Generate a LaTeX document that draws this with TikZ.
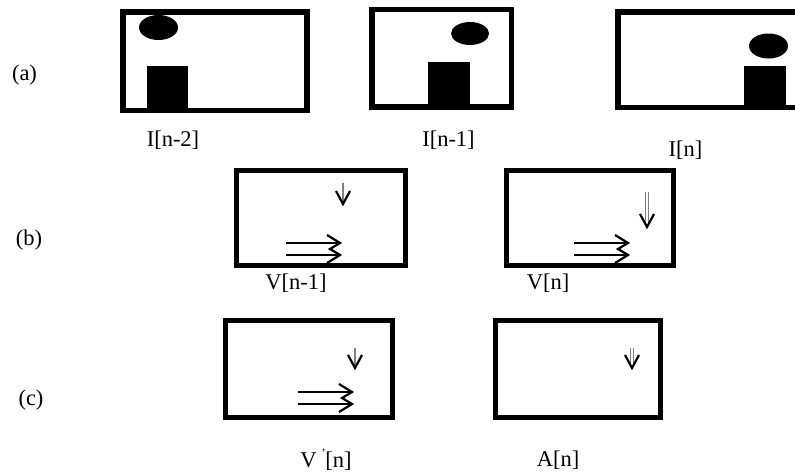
\documentclass[tikz,border=0pt]{standalone}
\usepackage{fontspec}
\setmainfont{Liberation Serif}
% small downward motion vector: #1 = x, #2 = tip y, #3 = shaft length
\newcommand{\vecdown}[3]{%
  \draw[shaft] (#1,#2-#3) -- (#1,#2-2);
  \draw[head] (#1-7,#2-13) -- (#1,#2) -- (#1+7,#2-13);}
% same, with a thin double shaft
\newcommand{\vecdowndbl}[3]{%
  \draw[shaft, line width=0.8pt] (#1-1.2,#2-#3) -- (#1-1.2,#2-3);
  \draw[shaft, line width=0.8pt] (#1+1.2,#2-#3) -- (#1+1.2,#2-3);
  \draw[head] (#1-7,#2-13) -- (#1,#2) -- (#1+7,#2-13);}
% horizontal double motion vector, tip of upper line at #1,#2
\newcommand{\vecright}[2]{%
  \draw[head] (#1-54,#2) -- (#1,#2);
  \draw[head] (#1-54,#2+12) -- (#1,#2+12);
  \draw[head] (#1-13,#2-8) -- (#1,#2) -- (#1-10,#2+6) -- (#1,#2+12) -- (#1-13,#2+20);}
\begin{document}
\begin{tikzpicture}[x=1pt, y=-1pt,
  frame/.style={draw=black, line width=5.5pt, inner sep=0pt, minimum width=#1},
  frame/.default=170pt,
  lbl/.style={font=\fontsize{22.5}{26}\selectfont, inner sep=0pt},
  shaft/.style={draw=black!50, line width=1.6pt},
  head/.style={draw=black, line width=2.2pt, line join=miter},
]
\useasboundingbox (0,0) rectangle (795,474);
\begin{scope}
\clip (0,0) rectangle (795,474);

% row (a): image frames
\node[frame=184pt, minimum height=98.5pt] (ia) at (215,61.25) {};
\node[frame=139.5pt, minimum height=97.5pt] (ib) at (441.75,58.25) {};
\node[frame=212pt, minimum height=95.5pt] (ic) at (724,59.75) {};

\fill (158.5,27.5) ellipse [x radius=19.5, y radius=12.5];
\fill (147,66) rectangle (188,110);
\fill (470,33.5) ellipse [x radius=19, y radius=11.5];
\fill (428,62) rectangle (470,106);
\fill (768.5,46) ellipse [x radius=19.5, y radius=12.5];
\fill (744,66) rectangle (786,106);

\node[lbl] (la) at (173,140) {I[n-2]};
\node[lbl] (lb) at (448.5,140) {I[n-1]};
\node[lbl] (lc) at (685.5,150) {I[n]};

% row (b): motion fields
\node[frame=169pt, minimum height=95pt] (va) at (321,218) {};
\node[frame=167pt, minimum height=95pt] (vb) at (590,218) {};
\vecdown{343}{204}{21}
\vecright{340}{243}
\vecdowndbl{647}{227}{35}
\vecright{628}{243}

\node[lbl] (lva) at (296,283) {V[n-1]};
\node[lbl] (lvb) at (548,283) {V[n]};

% row (c): predicted field and acceleration
\node[lbl] (lpa) at (326,460) {V\hspace{0.25em}\raisebox{0.75em}{\fontsize{13}{13}\selectfont ,}[n]};
\node[frame=167pt, minimum height=97pt] (pa) at (309,369) {};
\node[frame=165pt, minimum height=97pt] (pb) at (578,369) {};
\vecdown{355}{368}{20}
\vecright{352}{392}
\vecdowndbl{632}{368}{20}

\node[lbl] (lpb) at (558,460) {A[n]};

% row markers
\node[lbl] (ra) at (24.5,75) {(a)};
\node[lbl] (rb) at (29,240) {(b)};
\node[lbl] (rc) at (31,400) {(c)};
\end{scope}
\end{tikzpicture}
\end{document}
